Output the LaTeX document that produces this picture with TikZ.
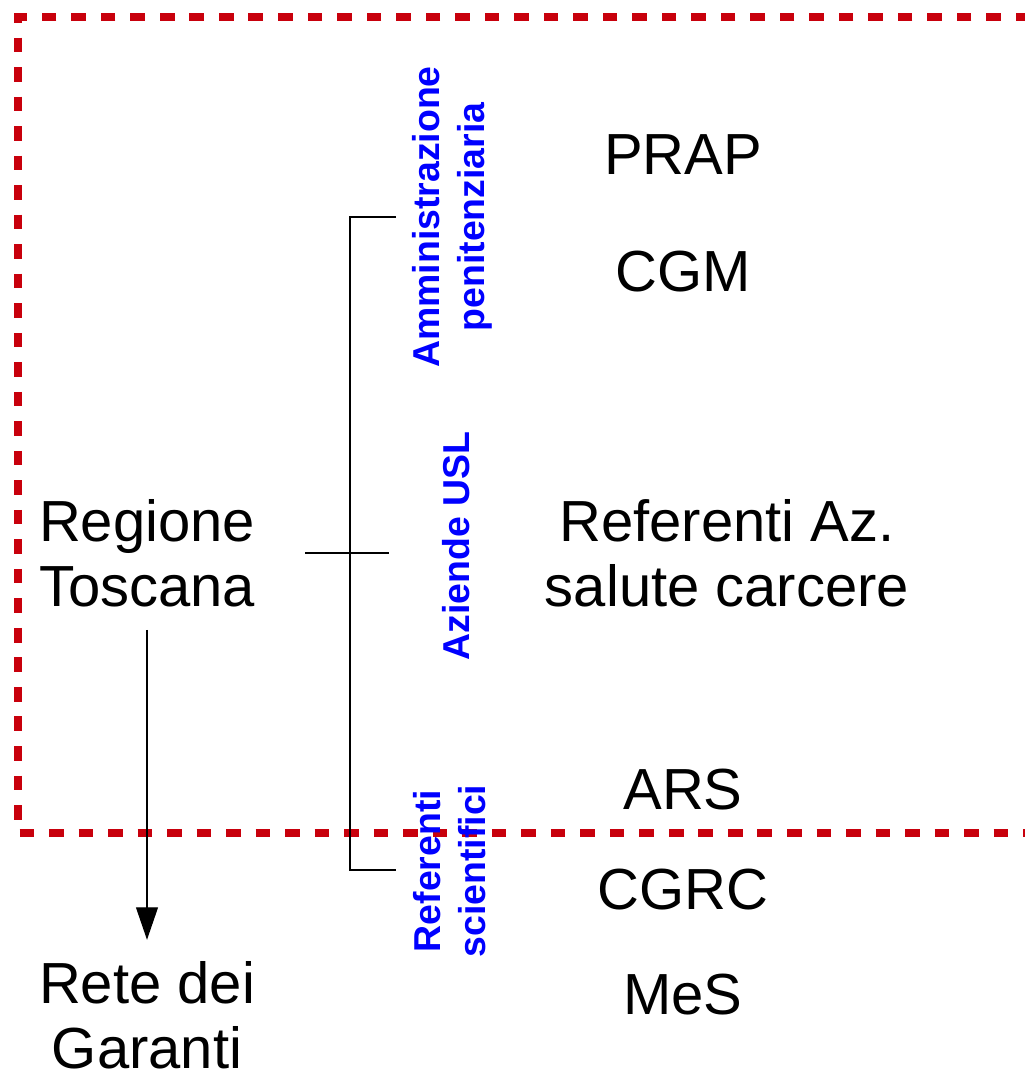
\documentclass[tikz,border=0pt]{standalone}
\usepackage{fontspec}
\setmainfont{Liberation Sans}
\usetikzlibrary{arrows.meta}
\definecolor{frameRed}{RGB}{200,0,12}
\begin{document}
\begin{tikzpicture}[x=0.02cm, y=-0.02cm, >={Triangle[width=12.5pt,length=18.5pt]},
entity/.style={inner sep=0, align=center, font=\fontsize{33}{37}\selectfont},
branch/.style={inner sep=0, align=center, rotate=90, text=blue, font=\fontsize{21.3}{25.5}\selectfont\bfseries},
link/.style={line width=0.75pt},
frame/.style={draw=frameRed, line width=4pt, dash pattern=on 8.3pt off 8.5pt}]
\useasboundingbox (0,0) rectangle (1024,1071);
%%%%%%%%%%%%%%%%%%%%%%% FRAME %%%%%%%%%%%%%%%%%%%%%%%%%%%
\draw[frame] (1060,17) -- (18,17) -- (18,833) -- (1060,833);
%%%%%%%%%%%%%%%%%%%%%%% LEFT %%%%%%%%%%%%%%%%%%%%%%%%%%%
\node[entity] (Regione) at (147,553) {Regione\\Toscana};
\node[entity] (Rete) at (147,1015) {Rete dei\\Garanti};
\draw[link, ->, shorten <=13pt, shorten >=12pt] (Regione) -- (Rete);
%%%%%%%%%%%%%%%%%%%%%%% BRANCHES %%%%%%%%%%%%%%%%%%%%%%%%%%%
\node[branch] (Amm) at (452,217) {Amministrazione\\penitenziaria};
\node[branch] (Usl) at (456,546) {Aziende USL};
\node[branch] (Sci) at (450,871) {Referenti\\scientifici};
\coordinate (BrTop) at (350,217);
\coordinate (BrBot) at (350,870);
\coordinate (BrTopEnd) at (396,217);
\coordinate (BrBotEnd) at (396,870);
\coordinate (MidStart) at (305,553);
\coordinate (MidEnd) at (389,553);
\draw[link] (BrTopEnd) -- (BrTop) -- (BrBot) -- (BrBotEnd);
\draw[link] (MidStart) -- (MidEnd);
%%%%%%%%%%%%%%%%%%%%%%% RIGHT %%%%%%%%%%%%%%%%%%%%%%%%%%%
\node[entity] (Prap) at (683,155) {PRAP};
\node[entity] (Cgm) at (683,272) {CGM};
\node[entity] (Ref) at (727,553) {Referenti Az.\\salute carcere};
\node[entity] (Ars) at (683,790) {ARS};
\node[entity] (Cgrc) at (683,890) {CGRC};
\node[entity] (Mes) at (683,995) {MeS};
\end{tikzpicture}
\end{document}
